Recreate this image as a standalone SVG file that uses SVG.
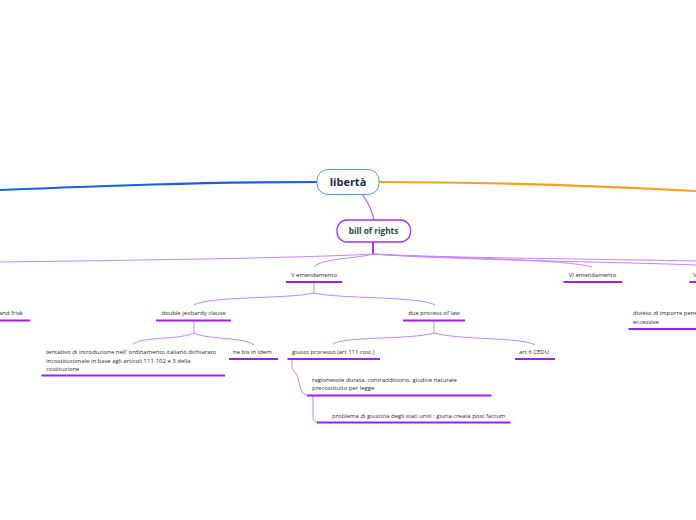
<svg xmlns="http://www.w3.org/2000/svg" width="696" height="520" viewBox="0 0 696 520">
<style>
.t{font-family:"Open Sans","Noto Sans",sans-serif;font-size:5.95px;fill:#2a2a2a;}
.u{stroke:#9d1ff2;stroke-width:2;fill:none;}
.c{stroke:#c683f6;stroke-width:1;fill:none;}
</style>
<rect width="696" height="520" fill="#ffffff"/>
<g id="connectors">
<path d="M317,182 C 200,182 100,186 0,190" stroke="#1a5fe3" stroke-width="2.2" fill="none"/>
<path d="M379,182 C 500,182 600,186 696,191" stroke="#f5a024" stroke-width="2.2" fill="none"/>
<path d="M362,194 C 368,202 372,210 374,220" stroke="#b055f3" stroke-width="1.2" fill="none"/>
<path d="M373,242 L373,254" stroke="#a830f0" stroke-width="2" fill="none"/>
<path class="c" d="M373,254 C 300,258 150,260 0,262" stroke-width="1.3"/>
<path class="c" d="M373,254 C 355,259 322,258 314,267"/>
<path class="c" d="M373,254 C 420,258 560,258 592,267"/>
<path class="c" d="M373,254 C 450,258 600,259 696,261" stroke-width="1.5" stroke="#b85cf4"/>
<path class="c" d="M373,254 C 450,260 620,262 696,265"/>
<path class="c" d="M314,282 L314,293 M314,293 C 290,299 208,296 194,305 M314,293 C 338,299 420,296 435,305"/>
<path class="c" d="M194,321 L194,333 M194,333 C 180,340 145,336 133,344 M194,333 C 208,340 245,337 254,345"/>
<path class="c" d="M434,321 L434,333 M434,333 C 410,340 345,336 333,344 M434,333 C 458,340 522,337 535,345"/>
<path class="c" d="M292,359 L292,366 C 292,372 296,371 298,378 C 300,386 301,395 307,395"/>
<path class="c" d="M313,396 L313,416 C 313,420 314,422 318,422"/>
</g>
<g id="liberta">
<rect x="317" y="169.5" width="62" height="25" rx="11" fill="#ffffff" stroke="#4d9fda" stroke-width="1"/>
<text x="348" y="186" text-anchor="middle" font-family="'Open Sans','Noto Sans',sans-serif" font-weight="bold" font-size="11" fill="#1e2b4d">libertà</text>
</g>
<g id="bill-of-rights">
<rect x="337" y="220" width="73.5" height="22" rx="10" fill="#ffffff" stroke="#a430f0" stroke-width="1.3"/>
<text x="373.5" y="234" text-anchor="middle" font-family="'Open Sans','Noto Sans',sans-serif" font-weight="bold" font-size="8.3" fill="#1d4b3c">bill of rights</text>
</g>
<g id="v-emendamento">
<text class="t" x="314" y="277" text-anchor="middle">V emendamento</text>
<line class="u" x1="286" y1="282" x2="342" y2="282"/>
</g>
<g id="vi-emendamento">
<text class="t" x="592.5" y="277" text-anchor="middle">VI emendamento</text>
<line class="u" x1="563.5" y1="282" x2="622" y2="282"/>
</g>
<g id="viii-emendamento">
<text class="t" x="693" y="277">V</text>
<line class="u" x1="689.5" y1="282" x2="696" y2="282"/>
</g>
<g id="and-frisk">
<text class="t" x="-1" y="315">and frisk</text>
<line class="u" x1="0" y1="320.5" x2="30" y2="320.5"/>
</g>
<g id="double-jeobardy">
<text class="t" x="193.5" y="315" text-anchor="middle">double jeobardy clause</text>
<line class="u" x1="156" y1="320.5" x2="231" y2="320.5"/>
</g>
<g id="due-process">
<text class="t" x="434" y="315" text-anchor="middle">due process of law</text>
<line class="u" x1="403" y1="320.5" x2="465" y2="320.5"/>
</g>
<g id="divieto">
<text class="t" x="633" y="315">divieto di imporre pene</text>
<text class="t" x="633" y="323.5">eccessive</text>
<line class="u" x1="628.5" y1="329" x2="696" y2="329"/>
</g>
<g id="tentativo">
<text class="t" x="46" y="354">tentativo di introduzione nell' ordinamento italiano dichiarato</text>
<text class="t" x="46" y="362.5">incostituzionale in base agli articoli 111-102 e 3 della</text>
<text class="t" x="46" y="371">costituzione</text>
<line class="u" x1="41.5" y1="375.5" x2="225" y2="375.5"/>
</g>
<g id="ne-bis-in-idem">
<text class="t" x="233" y="354">ne bis in idem</text>
<line class="u" x1="229" y1="359" x2="278" y2="359"/>
</g>
<g id="giusto-processo">
<text class="t" x="292" y="354">giusto processo (art 111 cost.)</text>
<line class="u" x1="287.5" y1="359" x2="380" y2="359"/>
</g>
<g id="art6-cedu">
<text class="t" x="519" y="354">art 6 CEDU</text>
<line class="u" x1="515" y1="359" x2="555" y2="359"/>
</g>
<g id="ragionevole">
<text class="t" x="312" y="381.5">ragionevole durata, contraddittorio, giudice  naturale</text>
<text class="t" x="312" y="390">precostituito per legge</text>
<line class="u" x1="307" y1="395.5" x2="491.5" y2="395.5"/>
</g>
<g id="problema">
<text class="t" x="332" y="417.5">problema di giustizia degli stati uniti : giuria creata post factum</text>
<line class="u" x1="317" y1="422.5" x2="510.5" y2="422.5"/>
</g>
</svg>
